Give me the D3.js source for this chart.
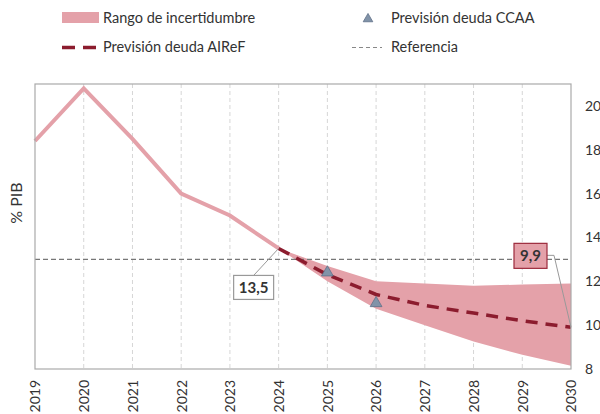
<!DOCTYPE html>
<html>
<head>
<meta charset="utf-8">
<script src="https://cdn.jsdelivr.net/npm/d3@7"></script>
<style>
  body { margin: 0; background: #fff; }
  svg { font-family: Lato, "Open Sans", sans-serif; }
</style>
</head>
<body>
<svg id="chart" width="600" height="414"></svg>
<script>
// years and series
var years = [2019, 2020, 2021, 2022, 2023, 2024, 2025, 2026, 2027, 2028, 2029, 2030];
var histYears = [2019, 2020, 2021, 2022, 2023, 2024];
var histValues = [18.4, 20.8, 18.5, 16.0, 15.0, 13.5];
var fcYears = [2024, 2025, 2026, 2027, 2028, 2029, 2030];
var airefValues = [13.5, 12.3, 11.4, 10.9, 10.55, 10.2, 9.9];
var bandUpper = [13.5, 12.7, 12.0, 11.9, 11.8, 11.85, 11.9];
var bandLower = [13.5, 12.0, 10.75, 10.0, 9.25, 8.65, 8.15];
var ccaaYears = [2025, 2026];
var ccaaValues = [12.4, 11.0];
var referencia = 13;
var yTicks = [8, 10, 12, 14, 16, 18, 20];

var margin = { top: 84, right: 29, bottom: 45, left: 35 };
var W = 600, H = 414;
var svg = d3.select('#chart');

var x = d3.scaleLinear().domain([2019, 2030]).range([margin.left, W - margin.right]);
var y = d3.scaleLinear().domain([8, 21]).range([H - margin.bottom, margin.top]);

var pink = "#e4a1a9", darkRed = "#8c1c2e", txt = "#333";

// vertical grid
svg.append("g")
    .selectAll("line")
    .data(years.slice(1, -1))
    .join("line")
    .attr("x1", d => x(d)).attr("x2", d => x(d))
    .attr("y1", y(21)).attr("y2", y(8))
    .attr("stroke", "#d6d6d6")
    .attr("stroke-dasharray", "4,3");

// band
var band = fcYears.map((d, i) => ({ year: d, lo: bandLower[i], hi: bandUpper[i] }));
svg.append("path")
    .datum(band)
    .attr("fill", pink)
    .attr("d", d3.area().x(d => x(d.year)).y0(d => y(d.lo)).y1(d => y(d.hi)));

// historical line
svg.append("path")
    .datum(histYears.map((d, i) => [d, histValues[i]]))
    .attr("fill", "none")
    .attr("stroke", pink)
    .attr("stroke-width", 4)
    .attr("d", d3.line().x(d => x(d[0])).y(d => y(d[1])));

// reference line
svg.append("line")
    .attr("x1", x(2019)).attr("x2", x(2030))
    .attr("y1", y(referencia)).attr("y2", y(referencia))
    .attr("stroke", "#777")
    .attr("stroke-width", 1.2)
    .attr("stroke-dasharray", "5,3");

// AIReF forecast
svg.append("path")
    .datum(fcYears.map((d, i) => [d, airefValues[i]]))
    .attr("fill", "none")
    .attr("stroke", darkRed)
    .attr("stroke-width", 3.5)
    .attr("stroke-dasharray", "12,8")
    .attr("d", d3.line().x(d => x(d[0])).y(d => y(d[1])));

// CCAA triangles
svg.append("g")
    .selectAll("path")
    .data(ccaaYears.map((d, i) => [d, ccaaValues[i]]))
    .join("path")
    .attr("transform", d => `translate(${x(d[0])},${y(d[1])})`)
    .attr("d", d3.symbol(d3.symbolTriangle, 60))
    .attr("fill", "#8193a8")
    .attr("stroke", "#5f7088")
    .attr("stroke-width", 0.8);

// frame
svg.append("rect")
    .attr("x", x(2019)).attr("y", y(21))
    .attr("width", x(2030) - x(2019)).attr("height", y(8) - y(21))
    .attr("fill", "none")
    .attr("stroke", "#aaa")
    .attr("stroke-width", 1.2);

// axes
var xAxis = svg.append("g")
    .attr("transform", `translate(0,${y(8)})`)
    .call(d3.axisBottom(x).tickValues(years).tickFormat(d3.format("d")).tickSize(0));
xAxis.select(".domain").remove();
xAxis.selectAll("text")
    .attr("transform", "rotate(-90)")
    .attr("text-anchor", "end")
    .attr("x", -11).attr("y", 0).attr("dy", "0.35em")
    .attr("font-size", 14).attr("fill", txt)
    .attr("font-family", "Lato, sans-serif");

var yAxis = svg.append("g")
    .attr("transform", `translate(${x(2030)},0)`)
    .call(d3.axisRight(y).tickValues(yTicks).tickSize(0).tickPadding(14));
yAxis.select(".domain").remove();
yAxis.selectAll("text")
    .attr("font-size", 14).attr("fill", txt)
    .attr("font-family", "Lato, sans-serif");

svg.append("text")
    .attr("transform", "translate(22,203) rotate(-90)")
    .attr("text-anchor", "middle")
    .attr("font-size", 16).attr("fill", txt)
    .text("% PIB");

// labels
function label(bx, by, bw, bh, text, fill, stroke, leader) {
    svg.append("path")
        .attr("d", leader)
        .attr("fill", "none")
        .attr("stroke", "#999")
        .attr("stroke-width", 1);
    svg.append("rect")
        .attr("x", bx).attr("y", by).attr("width", bw).attr("height", bh)
        .attr("fill", fill).attr("stroke", stroke).attr("stroke-width", 1.2);
    svg.append("text")
        .attr("x", bx + bw / 2).attr("y", by + bh / 2).attr("dy", "0.36em")
        .attr("text-anchor", "middle")
        .attr("font-size", 15).attr("font-weight", "bold").attr("fill", "#333")
        .text(text);
}
var p1x = x(2024), p1y = y(histValues[5]);
label(p1x - 45, p1y + 27, 40, 24, "13,5", "#fff", "#999",
    `M${p1x},${p1y}L${p1x - 25},${p1y + 27}`);
var p2x = x(2030), p2y = y(airefValues[6]);
label(p2x - 57, p2y - 84, 33, 25, "9,9", pink, "#9c2a3c",
    `M${p2x - 24},${p2y - 72}L${p2x - 17},${p2y - 72}L${p2x},${p2y}`);

// legend
var lg = svg.append("g").attr("font-size", 14.5).attr("fill", txt);
lg.append("rect").attr("x", 62).attr("y", 12).attr("width", 37).attr("height", 11).attr("fill", pink);
lg.append("text").attr("x", 103).attr("y", 18).attr("dy", "0.35em").text("Rango de incertidumbre");
lg.append("line").attr("x1", 62).attr("x2", 96).attr("y1", 47.5).attr("y2", 47.5)
    .attr("stroke", darkRed).attr("stroke-width", 3.5).attr("stroke-dasharray", "13,8");
lg.append("text").attr("x", 103).attr("y", 47).attr("dy", "0.35em").text("Previsión deuda AIReF");
lg.append("path").attr("transform", "translate(368,19)")
    .attr("d", d3.symbol(d3.symbolTriangle, 40))
    .attr("fill", "#8193a8").attr("stroke", "#5f7088").attr("stroke-width", 0.8);
lg.append("text").attr("x", 391).attr("y", 18).attr("dy", "0.35em").text("Previsión deuda CCAA");
lg.append("line").attr("x1", 352).attr("x2", 382).attr("y1", 47.5).attr("y2", 47.5)
    .attr("stroke", "#888").attr("stroke-width", 1.2).attr("stroke-dasharray", "4,3");
lg.append("text").attr("x", 391).attr("y", 47).attr("dy", "0.35em").text("Referencia");
</script>
</body>
</html>
